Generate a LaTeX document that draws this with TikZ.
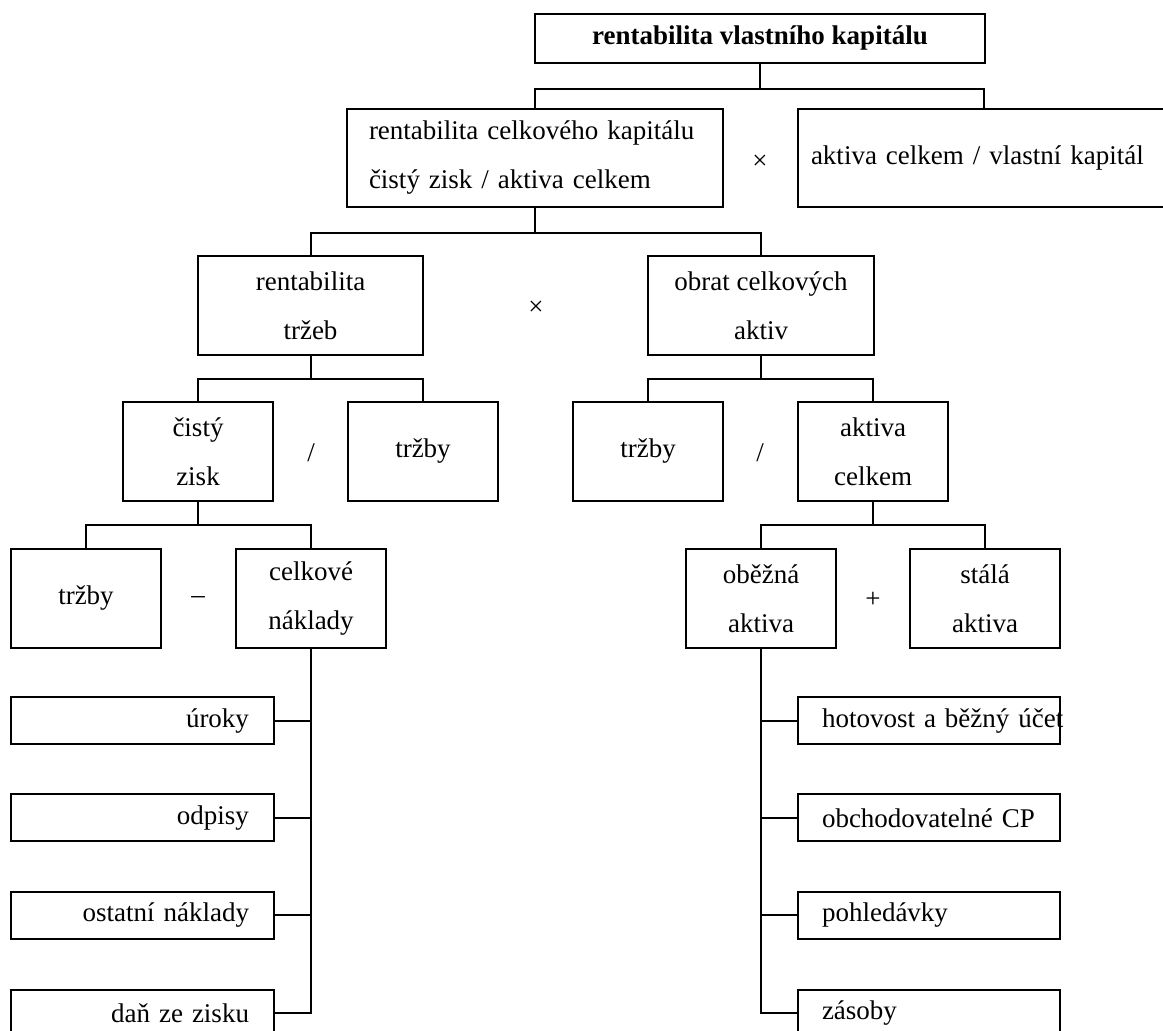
\documentclass[tikz,border=0pt]{standalone}
\usepackage{fontspec}
\setmainfont{Liberation Serif}
\usetikzlibrary{positioning}

\begin{document}
\begin{tikzpicture}[x=0.5pt,y=-0.5pt,line width=1pt,
  box/.style={draw,inner sep=0pt,align=center,font=\fontsize{13.5}{24.5}\selectfont},
  small/.style={box,minimum width=75pt,minimum height=49.5pt},
  leafL/.style={box,minimum height=23.5pt,text width=106.5pt,inner xsep=12.5pt,align=right},
  leafR/.style={box,minimum height=23.5pt,text width=107pt,inner xsep=12pt,align=left},
  op/.style={font=\fontsize{13.5}{16}\selectfont}]
\useasboundingbox (0,0) rectangle (1163,1031);

\node[box,minimum width=225pt,minimum height=24.5pt,font=\fontsize{13.5}{24.5}\selectfont\bfseries] (rvk) at (760,38.5) {rentabilita vlastního kapitálu};
\node[box,minimum height=49pt,text width=166pt,inner xsep=11pt,align=left] (rck) at (535,158) {\mbox{rentabilita celkového kapitálu}\\\mbox{čistý zisk / aktiva celkem}};
\node[box,minimum height=49pt,text width=173pt,inner xsep=6.5pt,align=left] (akvk) at (984,158) {aktiva celkem / vlastní kapitál};
\node[op] (krat1) at (760,162) {×};

\node[box,minimum width=112.5pt,minimum height=49.5pt] (rt) at (310.5,305.5) {rentabilita\\tržeb};
\node[box,minimum width=113pt,minimum height=49.5pt] (oca) at (761,305.5) {obrat celkových\\aktiv};
\node[op] (krat2) at (536,308) {×};

\node[small] (cz) at (198,451.5) {čistý\\zisk};
\node[small] (trzby1) at (423,451.5) {tržby};
\node[small] (trzby2) at (648,451.5) {tržby};
\node[small] (ac) at (873,451.5) {aktiva\\celkem};
\node[op] (del1) at (311,453) {/};
\node[op] (del2) at (760,453) {/};

\node[small] (trzby3) at (86,598.5) {tržby};
\node[small] (cn) at (311,598.5) {celkové\\náklady};
\node[small] (oba) at (761,598.5) {oběžná\\aktiva};
\node[small] (sta) at (985,598.5) {stálá\\aktiva};
\node[op] (minus) at (198,600) {–};
\node[op] (plus) at (873,600) {+};

\node[leafL] (uroky) at (142.5,721) {úroky};
\node[leafL] (odpisy) at (142.5,818) {odpisy};
\node[leafL] (ostatni) at (142.5,915.5) {ostatní náklady};
\node[leafL] (dan) at (142.5,1013) {daň ze zisku};

\node[leafR] (hotovost) at (929,721) {\mbox{hotovost a běžný účet}};
\node[leafR] (cp) at (929,818) {obchodovatelné CP};
\node[leafR] (pohl) at (929,915.5) {pohledávky};
\node[leafR] (zasoby) at (929,1013) {zásoby};

% tree lines
\draw (rvk.south) -- ++(0,25) -| (rck.north);
\draw (rvk.south) -- ++(0,25) -| (akvk.north);
\draw (rck.south) -- ++(0,25) -| (rt.north);
\draw (rck.south) -- ++(0,25) -| (oca.north);
\draw (rt.south) -- ++(0,23) -| (cz.north);
\draw (rt.south) -- ++(0,23) -| (trzby1.north);
\draw (oca.south) -- ++(0,23) -| (trzby2.north);
\draw (oca.south) -- ++(0,23) -| (ac.north);
\draw (cz.south) -- ++(0,23) -| (trzby3.north);
\draw (cz.south) -- ++(0,23) -| (cn.north);
\draw (ac.south) -- ++(0,23) -| (oba.north);
\draw (ac.south) -- ++(0,23) -| (sta.north);

% costs and current assets
\draw (cn.south) |- (dan.east);
\draw (uroky.east) -- (uroky.east -| cn.south);
\draw (odpisy.east) -- (odpisy.east -| cn.south);
\draw (ostatni.east) -- (ostatni.east -| cn.south);
\draw (oba.south) |- (zasoby.west);
\draw (hotovost.west) -- (hotovost.west -| oba.south);
\draw (cp.west) -- (cp.west -| oba.south);
\draw (pohl.west) -- (pohl.west -| oba.south);
\end{tikzpicture}
\end{document}
